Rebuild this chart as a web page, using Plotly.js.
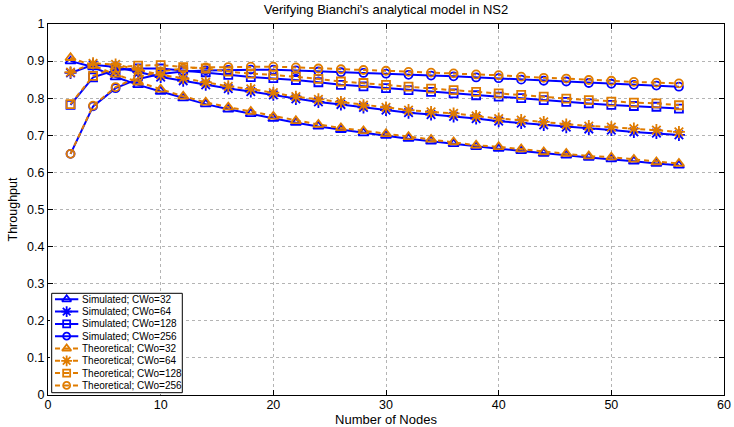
<!DOCTYPE html>
<html>
<head>
<meta charset="utf-8">
<script src="https://cdn.plot.ly/plotly-3.0.1.min.js"></script>
<style>html,body{margin:0;padding:0;background:#fff;}#chart{width:734px;height:427px;}</style>
</head>
<body>
<div id="chart"></div>
<script>
var nodes = [2,4,6,8,10,12,14,16,18,20,22,24,26,28,30,32,34,36,38,40,42,44,46,48,50,52,54,56];

var sim32  = [0.900,0.884,0.857,0.836,0.818,0.800,0.784,0.770,0.758,0.745,0.734,0.724,0.715,0.706,0.699,0.691,0.684,0.677,0.669,0.664,0.658,0.651,0.646,0.640,0.636,0.630,0.624,0.619];
var sim64  = [0.868,0.890,0.884,0.871,0.857,0.847,0.836,0.826,0.818,0.809,0.798,0.790,0.783,0.775,0.768,0.761,0.756,0.751,0.745,0.738,0.733,0.728,0.722,0.717,0.714,0.709,0.706,0.701];
var sim128 = [0.782,0.856,0.876,0.880,0.880,0.875,0.870,0.863,0.857,0.854,0.849,0.843,0.836,0.832,0.827,0.822,0.817,0.813,0.808,0.804,0.800,0.795,0.790,0.786,0.782,0.779,0.777,0.772];
var sim256 = [0.650,0.778,0.827,0.852,0.865,0.872,0.875,0.876,0.877,0.877,0.875,0.872,0.870,0.868,0.866,0.863,0.861,0.859,0.856,0.854,0.850,0.847,0.845,0.841,0.839,0.836,0.834,0.831];

var th32  = [0.909,0.888,0.864,0.843,0.824,0.805,0.789,0.776,0.764,0.751,0.739,0.729,0.720,0.712,0.704,0.696,0.689,0.682,0.673,0.669,0.663,0.655,0.651,0.644,0.641,0.635,0.628,0.624];
var th64  = [0.870,0.894,0.891,0.877,0.863,0.854,0.843,0.832,0.825,0.815,0.804,0.797,0.790,0.781,0.775,0.768,0.763,0.759,0.752,0.745,0.741,0.736,0.729,0.725,0.722,0.718,0.714,0.709];
var th128 = [0.784,0.860,0.882,0.888,0.889,0.884,0.880,0.872,0.866,0.863,0.858,0.852,0.845,0.841,0.836,0.831,0.826,0.822,0.817,0.813,0.809,0.804,0.799,0.795,0.791,0.788,0.786,0.781];
var th256 = [0.650,0.780,0.830,0.857,0.872,0.880,0.883,0.884,0.885,0.885,0.883,0.880,0.878,0.876,0.874,0.871,0.869,0.867,0.864,0.862,0.858,0.855,0.853,0.849,0.847,0.844,0.842,0.840];

var seriesNames = ['Simulated; CWo=32','Simulated; CWo=64','Simulated; CWo=128','Simulated; CWo=256',
                   'Theoretical; CWo=32','Theoretical; CWo=64','Theoretical; CWo=128','Theoretical; CWo=256'];
var seriesData = [sim32, sim64, sim128, sim256, th32, th64, th128, th256];

var symbols = ['triangle-up-open','asterisk-open','square-open','circle-open'];
var symSizes = [9, 10, 8, 8];
var legendSizes = [8, 9, 7, 7];
var BLUE = '#0000ff', ORANGE = '#e07c00';

function styleOf(i, sizes){
  var theo = i >= 4, col = theo ? ORANGE : BLUE;
  return {
    line: {color: col, width: 2, dash: theo ? '5px,4px' : 'solid'},
    marker: {symbol: symbols[i % 4], size: sizes[i % 4], color: col, line: {color: col, width: 1.8}}
  };
}

var traces = seriesData.map(function(ys, i){
  var s = styleOf(i, symSizes);
  return {x: nodes, y: ys, name: seriesNames[i], type: 'scatter', mode: 'lines+markers',
          line: s.line, marker: s.marker, showlegend: false, xaxis: 'x', yaxis: 'y'};
});

/* ---- compact MATLAB-style legend drawn on a small overlay subplot whose axes are in pixel units ---- */
var PL = {l: 48, r: 724, t: 24, b: 395};           // plot area in pixels
var LG = {x0: 50, x1: 185, y0: 291, y1: 394.5};     // legend subplot region in pixels
var BOX = {x0: 51.7, x1: 182.3, y0: 293.3, y1: 392.7};
var ENTRY = {y0: 299.3, dy: 12.3, lineX0: 55, lineX1: 78.3, textX: 80};
var PW = PL.r - PL.l, PH = PL.b - PL.t;

seriesNames.forEach(function(nm, i){
  var s = styleOf(i, legendSizes);
  var yc = ENTRY.y0 + ENTRY.dy * i;
  var xm = (ENTRY.lineX0 + ENTRY.lineX1) / 2;
  traces.push({
    x: [ENTRY.lineX0, xm, ENTRY.lineX1], y: [yc, yc, yc], type: 'scatter', mode: 'lines+markers',
    xaxis: 'x2', yaxis: 'y2', showlegend: false, hoverinfo: 'skip', name: nm,
    line: s.line,
    marker: {symbol: s.marker.symbol, size: s.marker.size, color: s.marker.color,
             line: s.marker.line, opacity: [0, 1, 0]}
  });
});

var annotations = seriesNames.map(function(nm, i){
  return {text: nm, xref: 'x2', yref: 'y2', x: ENTRY.textX, y: ENTRY.y0 + ENTRY.dy * i,
          xanchor: 'left', yanchor: 'middle', showarrow: false,
          font: {size: 10, color: '#000'}};
});

var layout = {
  width: 734, height: 427,
  margin: {l: PL.l, r: 734 - PL.r, t: PL.t, b: 427 - PL.b},
  paper_bgcolor: '#fff', plot_bgcolor: '#fff',
  font: {family: '"Liberation Sans", Arial, sans-serif', size: 12, color: '#000'},
  title: {text: "Verifying Bianchi's analytical model in NS2", font: {size: 13, color: '#000'},
          x: 0.5, xref: 'paper', y: 0.977, yref: 'container', yanchor: 'middle'},
  xaxis: {
    range: [0, 60], dtick: 10, tick0: 0,
    showline: true, linecolor: '#000', linewidth: 1, mirror: 'ticks',
    ticks: 'inside', ticklen: 5, tickcolor: '#000',
    showgrid: true, gridcolor: '#b4b4b4', griddash: 'dot', gridwidth: 1,
    zeroline: false, ticklabelstandoff: -2,
    title: {text: 'Number of Nodes', font: {size: 13}, standoff: 7},
    tickfont: {size: 12.5}
  },
  yaxis: {
    range: [0, 1], dtick: 0.1, tick0: 0,
    showline: true, linecolor: '#000', linewidth: 1, mirror: 'ticks',
    ticks: 'inside', ticklen: 5, tickcolor: '#000',
    showgrid: true, gridcolor: '#b4b4b4', griddash: 'dot', gridwidth: 1,
    zeroline: false,
    title: {text: 'Throughput', font: {size: 12.5}, standoff: 6},
    tickfont: {size: 12.5}
  },
  xaxis2: {domain: [(LG.x0 - PL.l) / PW, (LG.x1 - PL.l) / PW], range: [LG.x0, LG.x1],
           anchor: 'y2', visible: false, fixedrange: true},
  yaxis2: {domain: [(PL.b - LG.y1) / PH, (PL.b - LG.y0) / PH], range: [LG.y1, LG.y0],
           anchor: 'x2', visible: false, fixedrange: true},
  shapes: [{type: 'rect', xref: 'x2', yref: 'y2', x0: BOX.x0, x1: BOX.x1, y0: BOX.y0, y1: BOX.y1,
            line: {color: '#000', width: 1}, fillcolor: '#fff', layer: 'between'}],
  annotations: annotations,
  showlegend: false
};

Plotly.newPlot('chart', traces, layout, {staticPlot: true, displayModeBar: false});
</script>
</body>
</html>
